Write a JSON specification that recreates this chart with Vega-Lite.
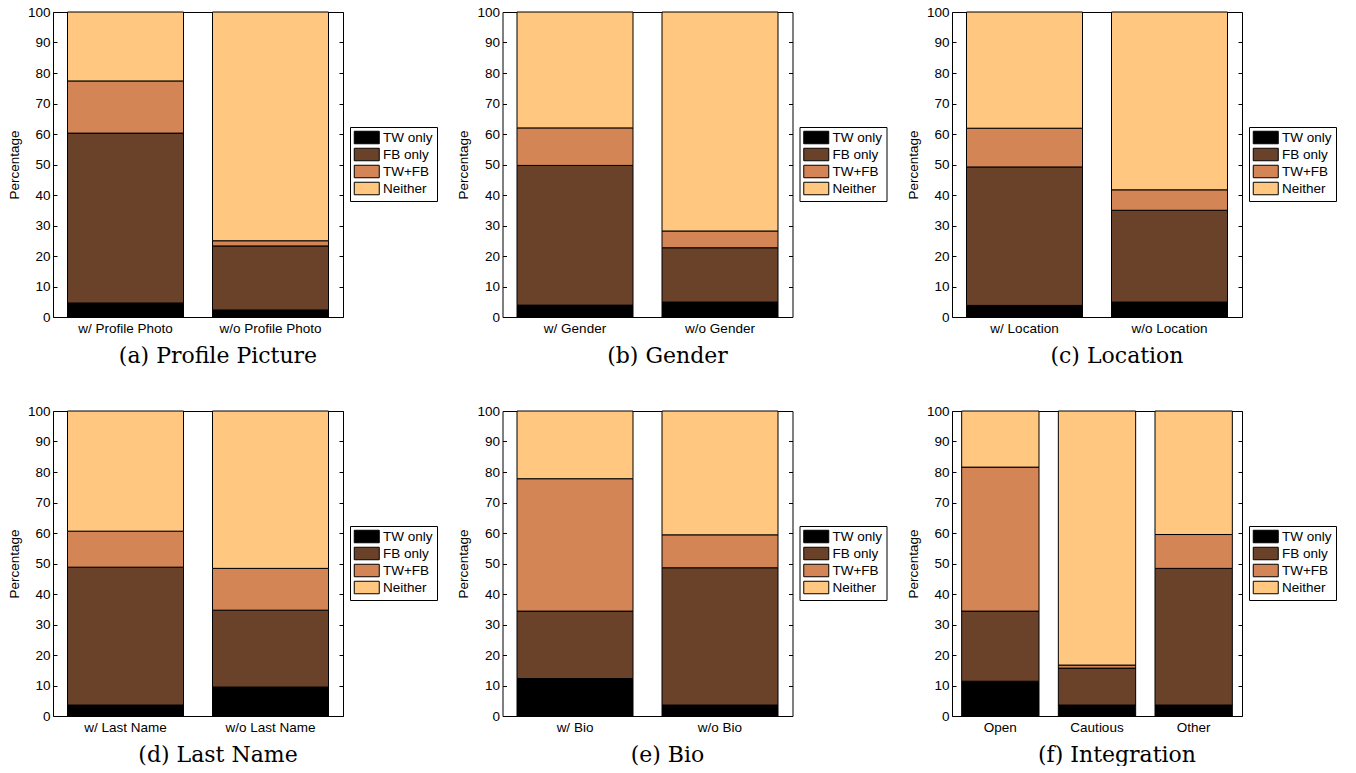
{
  "$schema": "https://vega.github.io/schema/vega-lite/v6.json",
  "padding": {"left": 6, "top": 4, "right": 0, "bottom": 0},
  "background": "white",
  "datasets": {
    "ranks": [
      {"category": "TW only", "rank": 1},
      {"category": "FB only", "rank": 2},
      {"category": "TW+FB", "rank": 3},
      {"category": "Neither", "rank": 4}
    ]
  },
  "data": {"values": [
    {"panel": "a", "group": "w/ Profile Photo", "category": "TW only", "value": 4.6},
    {"panel": "a", "group": "w/ Profile Photo", "category": "FB only", "value": 55.7},
    {"panel": "a", "group": "w/ Profile Photo", "category": "TW+FB", "value": 17.1},
    {"panel": "a", "group": "w/ Profile Photo", "category": "Neither", "value": 22.6},
    {"panel": "a", "group": "w/o Profile Photo", "category": "TW only", "value": 2.3},
    {"panel": "a", "group": "w/o Profile Photo", "category": "FB only", "value": 21.0},
    {"panel": "a", "group": "w/o Profile Photo", "category": "TW+FB", "value": 1.7},
    {"panel": "a", "group": "w/o Profile Photo", "category": "Neither", "value": 75.0},
    {"panel": "b", "group": "w/ Gender", "category": "TW only", "value": 3.9},
    {"panel": "b", "group": "w/ Gender", "category": "FB only", "value": 45.8},
    {"panel": "b", "group": "w/ Gender", "category": "TW+FB", "value": 12.3},
    {"panel": "b", "group": "w/ Gender", "category": "Neither", "value": 38.0},
    {"panel": "b", "group": "w/o Gender", "category": "TW only", "value": 4.9},
    {"panel": "b", "group": "w/o Gender", "category": "FB only", "value": 17.8},
    {"panel": "b", "group": "w/o Gender", "category": "TW+FB", "value": 5.5},
    {"panel": "b", "group": "w/o Gender", "category": "Neither", "value": 71.8},
    {"panel": "c", "group": "w/ Location", "category": "TW only", "value": 3.8},
    {"panel": "c", "group": "w/ Location", "category": "FB only", "value": 45.4},
    {"panel": "c", "group": "w/ Location", "category": "TW+FB", "value": 12.7},
    {"panel": "c", "group": "w/ Location", "category": "Neither", "value": 38.1},
    {"panel": "c", "group": "w/o Location", "category": "TW only", "value": 4.9},
    {"panel": "c", "group": "w/o Location", "category": "FB only", "value": 30.1},
    {"panel": "c", "group": "w/o Location", "category": "TW+FB", "value": 6.7},
    {"panel": "c", "group": "w/o Location", "category": "Neither", "value": 58.3},
    {"panel": "d", "group": "w/ Last Name", "category": "TW only", "value": 3.6},
    {"panel": "d", "group": "w/ Last Name", "category": "FB only", "value": 45.2},
    {"panel": "d", "group": "w/ Last Name", "category": "TW+FB", "value": 11.8},
    {"panel": "d", "group": "w/ Last Name", "category": "Neither", "value": 39.4},
    {"panel": "d", "group": "w/o Last Name", "category": "TW only", "value": 9.5},
    {"panel": "d", "group": "w/o Last Name", "category": "FB only", "value": 25.2},
    {"panel": "d", "group": "w/o Last Name", "category": "TW+FB", "value": 13.7},
    {"panel": "d", "group": "w/o Last Name", "category": "Neither", "value": 51.6},
    {"panel": "e", "group": "w/ Bio", "category": "TW only", "value": 12.3},
    {"panel": "e", "group": "w/ Bio", "category": "FB only", "value": 22.1},
    {"panel": "e", "group": "w/ Bio", "category": "TW+FB", "value": 43.4},
    {"panel": "e", "group": "w/ Bio", "category": "Neither", "value": 22.2},
    {"panel": "e", "group": "w/o Bio", "category": "TW only", "value": 3.6},
    {"panel": "e", "group": "w/o Bio", "category": "FB only", "value": 45.0},
    {"panel": "e", "group": "w/o Bio", "category": "TW+FB", "value": 10.8},
    {"panel": "e", "group": "w/o Bio", "category": "Neither", "value": 40.6},
    {"panel": "f", "group": "Open", "category": "TW only", "value": 11.4},
    {"panel": "f", "group": "Open", "category": "FB only", "value": 23.0},
    {"panel": "f", "group": "Open", "category": "TW+FB", "value": 47.2},
    {"panel": "f", "group": "Open", "category": "Neither", "value": 18.4},
    {"panel": "f", "group": "Cautious", "category": "TW only", "value": 3.6},
    {"panel": "f", "group": "Cautious", "category": "FB only", "value": 12.1},
    {"panel": "f", "group": "Cautious", "category": "TW+FB", "value": 1.0},
    {"panel": "f", "group": "Cautious", "category": "Neither", "value": 83.3},
    {"panel": "f", "group": "Other", "category": "TW only", "value": 3.6},
    {"panel": "f", "group": "Other", "category": "FB only", "value": 44.8},
    {"panel": "f", "group": "Other", "category": "TW+FB", "value": 11.1},
    {"panel": "f", "group": "Other", "category": "Neither", "value": 40.5}
  ]},
  "transform": [
    {"lookup": "category", "from": {"data": {"name": "ranks"}, "key": "category", "fields": ["rank"]}}
  ],
  "columns": 3,
  "spacing": {"column": 17.5, "row": 36},
  "resolve": {"scale": {"color": "independent", "x": "independent", "y": "independent"}},
  "concat": [
    {
      "title": {"text": "(a) Profile Picture"},
      "width": 290, "height": 305,
      "transform": [{"filter": "datum.panel == 'a'"}],
      "layer": [
        {"mark": {"type": "bar", "stroke": "black", "strokeWidth": 1},
         "encoding": {
           "x": {"field": "group", "type": "nominal", "sort": null, "scale": {"paddingInner": 0.2, "paddingOuter": 0.1}},
           "y": {"field": "value", "type": "quantitative", "stack": "zero", "scale": {"domain": [0, 100]}, "axis": {"title": "Percentage", "orient": "left"}},
           "order": {"field": "rank", "type": "quantitative", "sort": "ascending"},
           "color": {"field": "category", "type": "nominal", "scale": {"domain": ["TW only", "FB only", "TW+FB", "Neither"], "range": ["#000000", "#6A422A", "#D48555", "#FFC77F"]}, "legend": {"orient": "none", "legendX": 297, "legendY": 115}}
         }},
        {"mark": {"type": "bar", "opacity": 0},
         "encoding": {
           "x": {"field": "group", "type": "nominal", "sort": null},
           "y": {"field": "value", "type": "quantitative", "stack": "zero", "axis": {"orient": "right", "labels": false, "title": null}}
         }}
      ],
      "resolve": {"axis": {"y": "independent"}}
    },
    {
      "title": {"text": "(b) Gender"},
      "width": 290, "height": 305,
      "transform": [{"filter": "datum.panel == 'b'"}],
      "layer": [
        {"mark": {"type": "bar", "stroke": "black", "strokeWidth": 1},
         "encoding": {
           "x": {"field": "group", "type": "nominal", "sort": null, "scale": {"paddingInner": 0.2, "paddingOuter": 0.1}},
           "y": {"field": "value", "type": "quantitative", "stack": "zero", "scale": {"domain": [0, 100]}, "axis": {"title": "Percentage", "orient": "left"}},
           "order": {"field": "rank", "type": "quantitative", "sort": "ascending"},
           "color": {"field": "category", "type": "nominal", "scale": {"domain": ["TW only", "FB only", "TW+FB", "Neither"], "range": ["#000000", "#6A422A", "#D48555", "#FFC77F"]}, "legend": {"orient": "none", "legendX": 297, "legendY": 115}}
         }},
        {"mark": {"type": "bar", "opacity": 0},
         "encoding": {
           "x": {"field": "group", "type": "nominal", "sort": null},
           "y": {"field": "value", "type": "quantitative", "stack": "zero", "axis": {"orient": "right", "labels": false, "title": null}}
         }}
      ],
      "resolve": {"axis": {"y": "independent"}}
    },
    {
      "title": {"text": "(c) Location"},
      "width": 290, "height": 305,
      "transform": [{"filter": "datum.panel == 'c'"}],
      "layer": [
        {"mark": {"type": "bar", "stroke": "black", "strokeWidth": 1},
         "encoding": {
           "x": {"field": "group", "type": "nominal", "sort": null, "scale": {"paddingInner": 0.2, "paddingOuter": 0.1}},
           "y": {"field": "value", "type": "quantitative", "stack": "zero", "scale": {"domain": [0, 100]}, "axis": {"title": "Percentage", "orient": "left"}},
           "order": {"field": "rank", "type": "quantitative", "sort": "ascending"},
           "color": {"field": "category", "type": "nominal", "scale": {"domain": ["TW only", "FB only", "TW+FB", "Neither"], "range": ["#000000", "#6A422A", "#D48555", "#FFC77F"]}, "legend": {"orient": "none", "legendX": 297, "legendY": 115}}
         }},
        {"mark": {"type": "bar", "opacity": 0},
         "encoding": {
           "x": {"field": "group", "type": "nominal", "sort": null},
           "y": {"field": "value", "type": "quantitative", "stack": "zero", "axis": {"orient": "right", "labels": false, "title": null}}
         }}
      ],
      "resolve": {"axis": {"y": "independent"}}
    },
    {
      "title": {"text": "(d) Last Name"},
      "width": 290, "height": 305,
      "transform": [{"filter": "datum.panel == 'd'"}],
      "layer": [
        {"mark": {"type": "bar", "stroke": "black", "strokeWidth": 1},
         "encoding": {
           "x": {"field": "group", "type": "nominal", "sort": null, "scale": {"paddingInner": 0.2, "paddingOuter": 0.1}},
           "y": {"field": "value", "type": "quantitative", "stack": "zero", "scale": {"domain": [0, 100]}, "axis": {"title": "Percentage", "orient": "left"}},
           "order": {"field": "rank", "type": "quantitative", "sort": "ascending"},
           "color": {"field": "category", "type": "nominal", "scale": {"domain": ["TW only", "FB only", "TW+FB", "Neither"], "range": ["#000000", "#6A422A", "#D48555", "#FFC77F"]}, "legend": {"orient": "none", "legendX": 297, "legendY": 115}}
         }},
        {"mark": {"type": "bar", "opacity": 0},
         "encoding": {
           "x": {"field": "group", "type": "nominal", "sort": null},
           "y": {"field": "value", "type": "quantitative", "stack": "zero", "axis": {"orient": "right", "labels": false, "title": null}}
         }}
      ],
      "resolve": {"axis": {"y": "independent"}}
    },
    {
      "title": {"text": "(e) Bio"},
      "width": 290, "height": 305,
      "transform": [{"filter": "datum.panel == 'e'"}],
      "layer": [
        {"mark": {"type": "bar", "stroke": "black", "strokeWidth": 1},
         "encoding": {
           "x": {"field": "group", "type": "nominal", "sort": null, "scale": {"paddingInner": 0.2, "paddingOuter": 0.1}},
           "y": {"field": "value", "type": "quantitative", "stack": "zero", "scale": {"domain": [0, 100]}, "axis": {"title": "Percentage", "orient": "left"}},
           "order": {"field": "rank", "type": "quantitative", "sort": "ascending"},
           "color": {"field": "category", "type": "nominal", "scale": {"domain": ["TW only", "FB only", "TW+FB", "Neither"], "range": ["#000000", "#6A422A", "#D48555", "#FFC77F"]}, "legend": {"orient": "none", "legendX": 297, "legendY": 115}}
         }},
        {"mark": {"type": "bar", "opacity": 0},
         "encoding": {
           "x": {"field": "group", "type": "nominal", "sort": null},
           "y": {"field": "value", "type": "quantitative", "stack": "zero", "axis": {"orient": "right", "labels": false, "title": null}}
         }}
      ],
      "resolve": {"axis": {"y": "independent"}}
    },
    {
      "title": {"text": "(f) Integration"},
      "width": 290, "height": 305,
      "transform": [{"filter": "datum.panel == 'f'"}],
      "layer": [
        {"mark": {"type": "bar", "stroke": "black", "strokeWidth": 1},
         "encoding": {
           "x": {"field": "group", "type": "nominal", "sort": null, "scale": {"paddingInner": 0.2, "paddingOuter": 0.1}},
           "y": {"field": "value", "type": "quantitative", "stack": "zero", "scale": {"domain": [0, 100]}, "axis": {"title": "Percentage", "orient": "left"}},
           "order": {"field": "rank", "type": "quantitative", "sort": "ascending"},
           "color": {"field": "category", "type": "nominal", "scale": {"domain": ["TW only", "FB only", "TW+FB", "Neither"], "range": ["#000000", "#6A422A", "#D48555", "#FFC77F"]}, "legend": {"orient": "none", "legendX": 297, "legendY": 115}}
         }},
        {"mark": {"type": "bar", "opacity": 0},
         "encoding": {
           "x": {"field": "group", "type": "nominal", "sort": null},
           "y": {"field": "value", "type": "quantitative", "stack": "zero", "axis": {"orient": "right", "labels": false, "title": null}}
         }}
      ],
      "resolve": {"axis": {"y": "independent"}}
    }
  ],
  "config": {
    "view": {"stroke": "black", "strokeWidth": 1},
    "title": {"orient": "bottom", "anchor": "middle", "font": "DejaVu Serif", "fontSize": 22, "fontWeight": "normal", "color": "black", "offset": 11, "dx": 20},
    "axis": {"grid": false, "domain": false, "labelFont": "Liberation Sans", "labelFontSize": 13.5, "labelColor": "black", "titleFont": "Liberation Sans", "titleFontSize": 13.5, "titleFontWeight": "normal", "titleColor": "black", "tickColor": "black"},
    "axisX": {"ticks": false, "labelAngle": 0, "labelPadding": 4, "title": null},
    "axisY": {"values": [0, 10, 20, 30, 40, 50, 60, 70, 80, 90, 100], "tickSize": -4, "labelPadding": 7, "titlePadding": 6},
    "legend": {"title": null, "symbolType": "M-1,-1H3V1H-1Z", "symbolSize": 156.25, "symbolStrokeColor": "black", "symbolStrokeWidth": 1, "symbolOpacity": 1, "labelFont": "Liberation Sans", "labelFontSize": 13.5, "labelColor": "black", "labelOffset": 15.5, "rowPadding": -1, "padding": 3.5, "strokeColor": "black", "fillColor": "white"}
  }
}
